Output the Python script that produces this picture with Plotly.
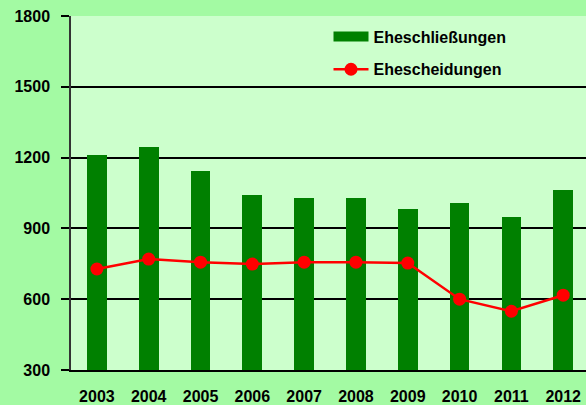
import plotly.graph_objects as go

years = ["2003", "2004", "2005", "2006", "2007", "2008", "2009", "2010", "2011", "2012"]
eheschliessungen = [1213, 1247, 1145, 1042, 1030, 1030, 983, 1008, 949, 1064]
ehescheidungen = [728, 770, 757, 749, 757, 757, 753, 600, 549, 617]
y_ticks = [300, 600, 900, 1200, 1500, 1800]

fig = go.Figure()
fig.add_trace(go.Bar(
    x=list(range(len(years))), y=[v - 300 for v in eheschliessungen], base=300,
    name="Eheschließungen", legendgroup="a", showlegend=False,
    marker=dict(color="#008000", line=dict(width=0)),
    width=0.38, hoverinfo="skip",
))
# legend-only entry to draw a wide swatch like the original
fig.add_trace(go.Scatter(
    x=[None], y=[None], mode="lines", name="<b>Eheschließungen</b>", legendgroup="a",
    line=dict(color="#008000", width=14),
))
fig.add_trace(go.Scatter(
    x=list(range(len(years))), y=ehescheidungen, name="<b>Ehescheidungen</b>", legendgroup="b",
    mode="lines+markers", line=dict(color="#FF0000", width=2.5),
    marker=dict(color="#FF0000", size=13),
))

font = dict(family="Liberation Sans, Arial, sans-serif", size=16, color="#000000")
fig.update_layout(
    width=586, height=405,
    margin=dict(l=71, r=0, t=16, b=35),
    paper_bgcolor="#A3FAA3", plot_bgcolor="#CCFFCC",
    font=font, bargap=0,
    showlegend=True,
    legend=dict(x=0.5, y=0.99, xanchor="left", yanchor="top",
                bgcolor="rgba(0,0,0,0)",
                font=dict(family="Liberation Sans, Arial, sans-serif", size=16, color="#000"),
                tracegroupgap=9, itemwidth=35),
    xaxis=dict(
        tickmode="array", tickvals=list(range(len(years))), ticktext=["<b>%s</b>" % y for y in years],
        range=[-0.5, 9.44], showgrid=False, showline=True, linecolor="#000", linewidth=1.5,
        ticks="", zeroline=False, tickfont=font, ticklabelstandoff=11,
    ),
    yaxis=dict(
        range=[300, 1800], tickmode="array", tickvals=y_ticks, ticktext=["<b>%d</b>" % v for v in y_ticks],
        showgrid=True, gridcolor="#000", gridwidth=2, showline=True, linecolor="#333", linewidth=1.5,
        ticks="outside", ticklen=8, tickcolor="#000", tickwidth=1.5, zeroline=False, tickfont=font,
        ticklabelstandoff=8,
    ),
)
fig.write_html("out.html", config={"displayModeBar": False},
               post_script="document.body.style.margin='0';document.body.style.padding='0';")
